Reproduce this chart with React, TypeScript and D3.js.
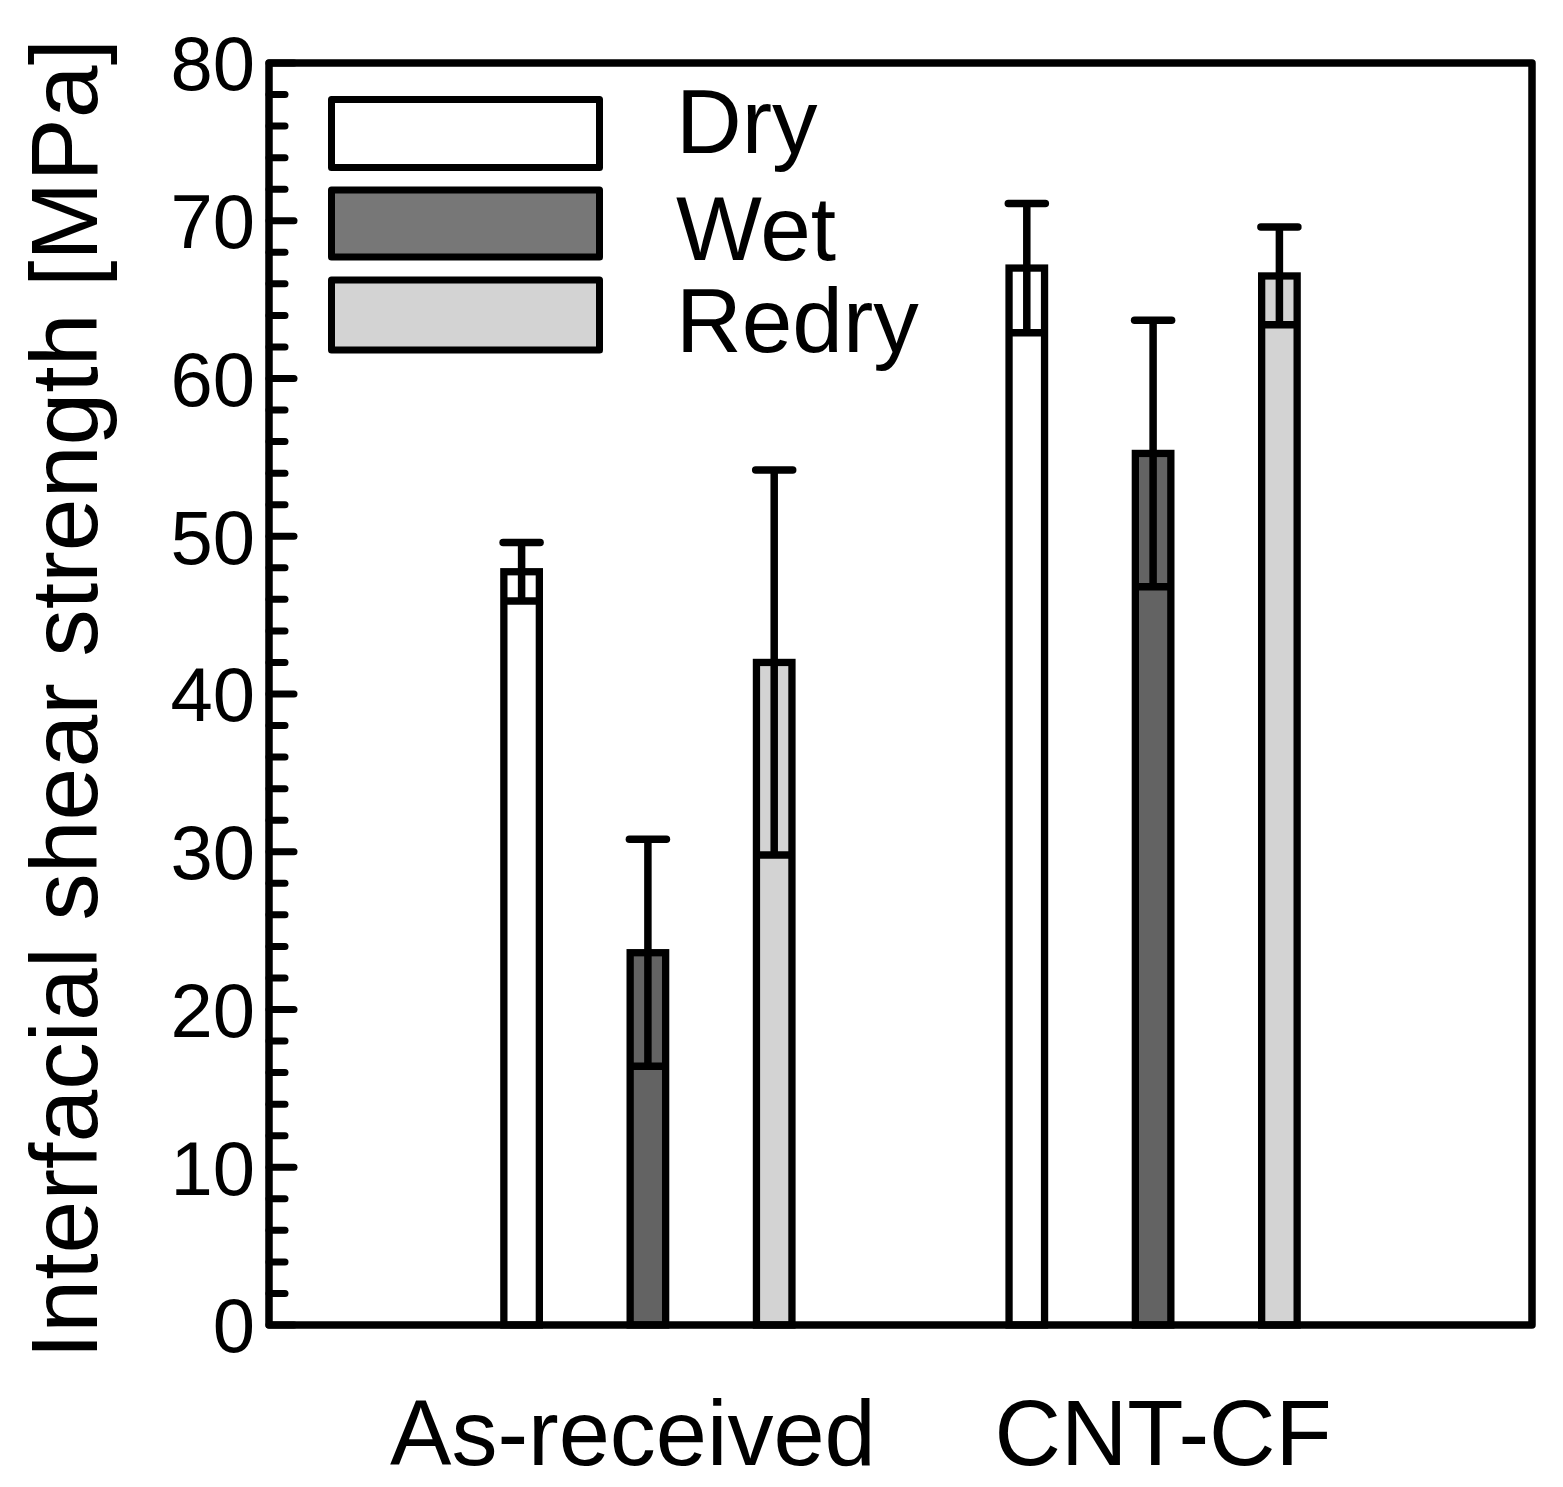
import React from "react";
import * as d3 from "d3";

// groups along the x axis and the three conditions in each
const categories = ["As-received", "CNT-CF"];
const conditions = ["Dry", "Wet", "Redry"];

// mean interfacial shear strength [MPa], one row per category
const meanValues = [
  [47.75, 23.6, 42.0],
  [67.0, 55.25, 66.5],
];
// error bar half-lengths [MPa]
const errValues = [
  [1.85, 7.2, 12.2],
  [4.1, 8.45, 3.1],
];

const yMajorTicks = [0, 10, 20, 30, 40, 50, 60, 70, 80];
const yTitle = "Interfacial shear strength [MPa]";

const barFill: Record<string, string> = { Dry: "#ffffff", Wet: "#636363", Redry: "#d3d3d3" };
const legendFill: Record<string, string> = { Dry: "#ffffff", Wet: "#777777", Redry: "#d3d3d3" };

const FONT = "'Liberation Sans', Arial, Helvetica, sans-serif";

const App: React.FC = () => {
  const width = 1563,
    height = 1487;
  const plot = { left: 269, right: 1532, top: 63, bottom: 1325 };

  // x in "slot" units: 0..10, bars of group g sit at 2+4g, 3+4g, 4+4g
  const x = d3.scaleLinear().domain([0, 10]).range([plot.left, plot.right]);
  const y = d3.scaleLinear().domain([0, 80]).range([plot.bottom, plot.top]);

  const barW = 35.5;
  const capHalf = 18.5;
  const minorTicks = d3.range(0, 81, 2).filter((v) => v % 10 !== 0);

  const bars = categories.flatMap((cat, g) =>
    conditions.map((cond, i) => ({
      cat,
      cond,
      slot: 2 + g * 4 + i,
      value: meanValues[g][i],
      err: errValues[g][i],
    }))
  );

  // legend layout
  const legendX = 331.5,
    legendW = 268;
  const legendBoxY = [99.5, 190, 280];
  const legendBoxH = [68, 67, 70];
  const legendTextY = [153, 260, 352];
  const labelNudge = [-15, 10];

  return (
    <svg
      width={width}
      height={height}
      style={{ position: "absolute", left: 0, top: 0, background: "#fff" }}
      fontFamily={FONT}
    >
      <rect x={0} y={0} width={width} height={height} fill="#fff" />

      {/* bars */}
      {bars.map((b) => (
        <rect
          key={b.cat + b.cond}
          x={x(b.slot) - barW / 2}
          y={y(b.value)}
          width={barW}
          height={y(0) - y(b.value)}
          fill={barFill[b.cond]}
          stroke="#000"
          strokeWidth={7.3}
        />
      ))}

      {/* error bars */}
      {bars.map((b) => {
        const cx = x(b.slot);
        return (
          <g key={"e" + b.cat + b.cond} stroke="#000" strokeWidth={7.5} strokeLinecap="round">
            <line x1={cx} x2={cx} y1={y(b.value - b.err)} y2={y(b.value + b.err)} strokeLinecap="butt" />
            <line x1={cx - capHalf} x2={cx + capHalf} y1={y(b.value + b.err)} y2={y(b.value + b.err)} />
            <line
              x1={cx - barW / 2}
              x2={cx + barW / 2}
              y1={y(b.value - b.err)}
              y2={y(b.value - b.err)}
              strokeLinecap="butt"
            />
          </g>
        );
      })}

      {/* inward ticks on left axis */}
      <g stroke="#000" strokeWidth={7} strokeLinecap="round">
        {yMajorTicks.map((t) => (
          <line key={"M" + t} x1={plot.left} x2={plot.left + 25} y1={y(t)} y2={y(t)} />
        ))}
        {minorTicks.map((t) => (
          <line key={"m" + t} x1={plot.left} x2={plot.left + 16} y1={y(t)} y2={y(t)} />
        ))}
      </g>

      {/* frame */}
      <rect
        x={plot.left}
        y={plot.top}
        width={plot.right - plot.left}
        height={plot.bottom - plot.top}
        fill="none"
        stroke="#000"
        strokeWidth={7.5}
        strokeLinejoin="round"
      />

      {/* tick labels */}
      {yMajorTicks.map((t) => (
        <text key={"l" + t} x={255} y={y(t)} dy="0.36em" textAnchor="end" fontSize={76} fill="#000">
          {t}
        </text>
      ))}

      {/* y title */}
      <text
        transform={`translate(97,699) rotate(-90)`}
        textAnchor="middle"
        fontSize={95}
        fill="#000"
      >
        {yTitle}
      </text>

      {/* category labels */}
      {categories.map((c, g) => (
        <text
          key={c}
          x={x(3 + g * 4) + labelNudge[g]}
          y={1465}
          textAnchor="middle"
          fontSize={92}
          fill="#000"
        >
          {c}
        </text>
      ))}

      {/* legend */}
      {conditions.map((c, i) => (
        <g key={"lg" + c}>
          {c !== "Dry" && (
            <rect
              x={legendX + 3}
              y={legendBoxY[i] + 3}
              width={legendW}
              height={legendBoxH[i]}
              fill="#b0b0b0"
            />
          )}
          <rect
            x={legendX}
            y={legendBoxY[i]}
            width={legendW}
            height={legendBoxH[i]}
            fill={legendFill[c]}
            stroke="#000"
            strokeWidth={7}
            strokeLinejoin="round"
          />
          <text x={676} y={legendTextY[i]} fontSize={91} fill="#000">
            {c}
          </text>
        </g>
      ))}
    </svg>
  );
};

export default App;
